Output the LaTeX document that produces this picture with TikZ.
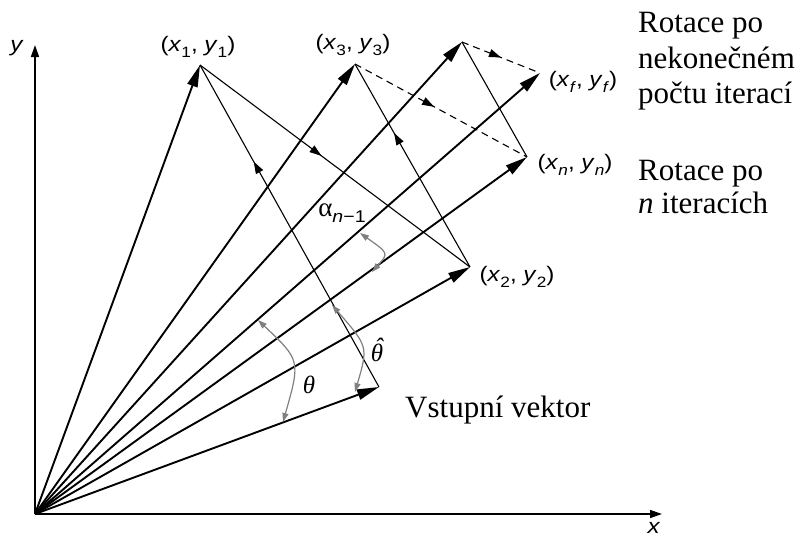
\documentclass[tikz,border=0pt]{standalone}
\usepackage{fontspec}
\setmainfont{Liberation Serif}
\setsansfont{Liberation Sans}
\usepackage{graphicx}
\usetikzlibrary{arrows.meta,decorations.markings}
\newcommand\lsub[1]{\raisebox{-0.3em}{\fontsize{15}{15}\selectfont #1}}
\newcommand\cpt[2]{\scalebox{1.15}[1]{(\textit{x}\lsub{#1}, \textit{y}\lsub{#2})}}
\tikzset{
  vec/.style={line width=1.9pt, -{Triangle[length=22pt,width=10.5pt]}},
  axisline/.style={line width=1.6pt, -{Triangle[length=12pt,width=8pt]}},
  thinline/.style={line width=1.1pt},
  dashline/.style={line width=1.1pt, dash pattern=on 7pt off 5pt},
  midarr/.style={postaction={decorate},decoration={markings,mark=at position #1 with {\arrow{Triangle[length=12pt,width=8pt]}}}},
  anglearc/.style={draw=gray, line width=1.2pt, {Triangle[length=9pt,width=6pt]}-{Triangle[length=9pt,width=6pt]}},
  lab/.style={font=\fontsize{21}{25}\selectfont\sffamily, inner sep=0pt},
  greek/.style={font=\fontsize{25}{28}\selectfont\itshape, inner sep=0pt},
  txt/.style={font=\fontsize{31}{35}\selectfont, inner sep=0pt, anchor=base west},
}
\begin{document}
\begin{tikzpicture}[x=1pt,y=-1pt]
\fill[white] (0,0) rectangle (801,539);
\useasboundingbox (0,0) rectangle (801,539);
% points
\coordinate (O) at (35,514);
\coordinate (X) at (662,514);
\coordinate (Y) at (35,45);
\coordinate (V0) at (379,387);
\coordinate (V1) at (200,65);
\coordinate (V2) at (470,267);
\coordinate (V3) at (355,64);
\coordinate (VT) at (462,42);
\coordinate (VF) at (540,73);
\coordinate (VN) at (527,157);
% axes
\draw[axisline] (O) -- (X);
\draw[axisline] (O) -- (Y);
% vectors
\draw[vec] (O) -- (V0);
\draw[vec] (O) -- (V1);
\draw[vec] (O) -- (V2);
\draw[vec] (O) -- (V3);
\draw[vec] (O) -- (VT);
\draw[vec] (O) -- (VF);
\draw[vec] (O) -- (VN);
% iteration steps
\draw[thinline, midarr=0.7] (V0) -- (V1);
\draw[thinline, midarr=0.45] (V1) -- (V2);
\draw[thinline, midarr=0.66] (V2) -- (V3);
\draw[dashline, midarr=0.46] (V3) -- (VN);
\draw[thinline] (VN) -- (VT);
\draw[dashline, midarr=0.5] (VT) -- (VF);
% angle arcs
\coordinate (TA) at (258,320); \coordinate (TB) at (283,422);
\coordinate (HA) at (332,305); \coordinate (HB) at (355,392);
\coordinate (AA) at (360,233); \coordinate (AB) at (372,272);
\draw[anglearc] (TA) .. controls (300.5,360.3) .. (TB);
\draw[anglearc] (HA) .. controls (368.2,346.5) .. (HB);
\draw[anglearc] (AA) .. controls (388.7,253.2) .. (AB);
% labels
\node[lab] (l1) at (198,47) {\cpt{1}{1}};
\node[lab] (l3) at (353,45) {\cpt{3}{3}};
\node[lab] (lf) at (583,82) {\cpt{\textit{f}}{\textit{f}}};
\node[lab] (ln) at (575,165) {\cpt{\textit{n}}{\textit{n}}};
\node[lab] (l2) at (517,277) {\cpt{2}{2}};
\node[lab] (ly) at (17,48) {\scalebox{1.15}[1]{\textit{y}}};
\node[lab] (lx) at (654,528) {\scalebox{1.15}[1]{\textit{x}}};
\node[lab] (la) at (342,213) {{\rmfamily\fontsize{27}{30}\selectfont α}\raisebox{-0.3em}{\fontsize{17}{17}\selectfont\scalebox{1.15}[1]{\textit{n}−1}}};
\node[greek] (lt) at (309,385) {θ};
\node[greek] (lh) at (377,350) {\accent"02C6 θ};
% right texts
\node[txt] (r1) at (638,32) {Rotace po};
\node[txt] (r2) at (638,68) {nekonečném};
\node[txt] (r3) at (638,103) {počtu iterací};
\node[txt] (r4) at (638,180) {Rotace po};
\node[txt] (r5) at (638,213) {\textit{n} iteracích};
\node[txt] (vs) at (405,417) {Vstupní vektor};
\end{tikzpicture}
\end{document}
